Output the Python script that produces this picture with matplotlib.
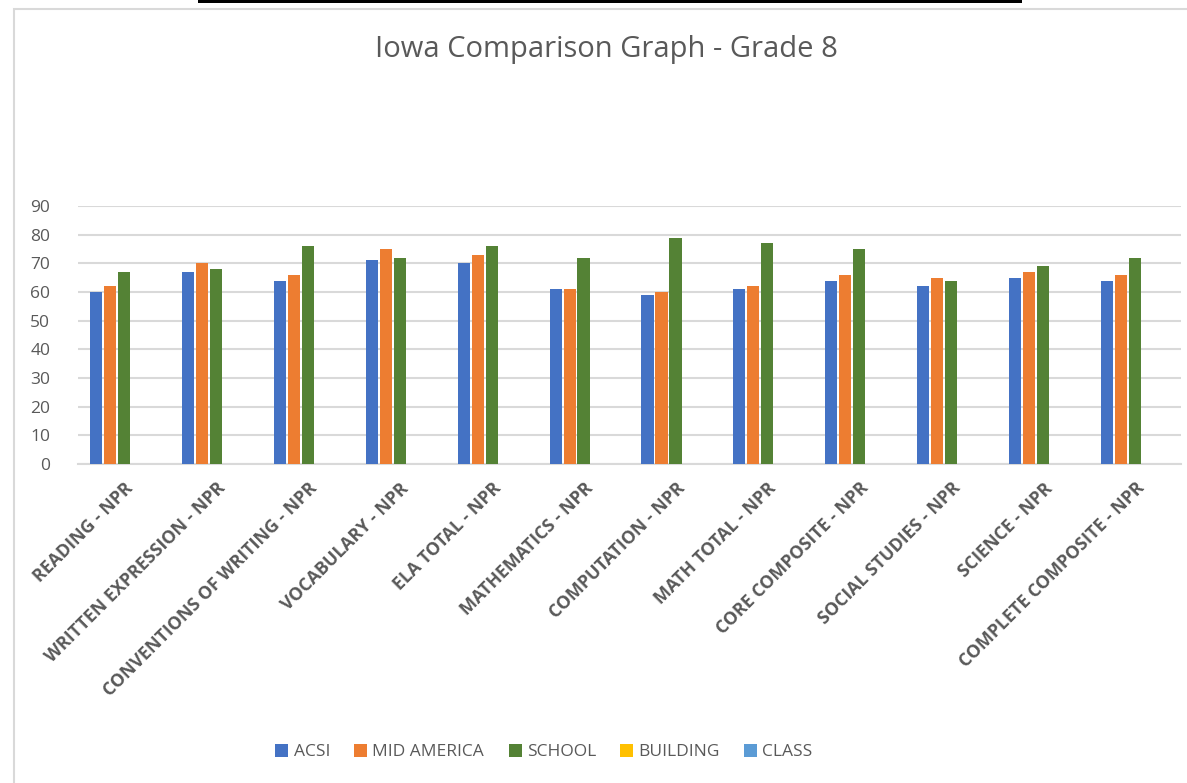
import numpy as np
from matplotlib import pyplot as plt
from matplotlib.patches import Rectangle, Patch

categories = ['READING - NPR', 'WRITTEN EXPRESSION - NPR', 'CONVENTIONS OF WRITING - NPR',
              'VOCABULARY - NPR', 'ELA TOTAL - NPR', 'MATHEMATICS - NPR', 'COMPUTATION - NPR',
              'MATH TOTAL - NPR', 'CORE COMPOSITE - NPR', 'SOCIAL STUDIES - NPR',
              'SCIENCE - NPR', 'COMPLETE COMPOSITE - NPR']
acsi = [60, 67, 64, 71, 70, 61, 59, 61, 64, 62, 65, 64]
mid_america = [62, 70, 66, 75, 73, 61, 60, 62, 66, 65, 67, 66]
school = [67, 68, 76, 72, 76, 72, 79, 77, 75, 64, 69, 72]
building = []
klass = []
series_names = ['ACSI', 'MID AMERICA', 'SCHOOL', 'BUILDING', 'CLASS']
colors = ['#4472C4', '#ED7D31', '#548235', '#FFC000', '#5B9BD5']
yticks = np.arange(0, 91, 10)

plt.rcParams['font.family'] = ['Open Sans', 'DejaVu Sans']
grey = '#595959'

fig = plt.figure(figsize=(11.87, 7.83), dpi=100)
# chart border and the black strip from the scanned page
fig.patches.append(Rectangle((14/1187, -0.05), 1.1, 1 - 9/783 + 0.05, transform=fig.transFigure,
                             fill=False, edgecolor='#d9d9d9', linewidth=1.5))
fig.patches.append(Rectangle((198/1187, 1 - 3/783), (1022 - 198)/1187, 3/783,
                             transform=fig.transFigure, facecolor='black', edgecolor='none'))

ax = fig.add_axes([78/1187, 1 - 464/783, (1181 - 78)/1187, (464 - 206)/783])

x = np.arange(len(categories))
step = 0.152
width = 0.132
all_series = [acsi, mid_america, school, building, klass]
for i, (vals, name, c) in enumerate(zip(all_series, series_names, colors)):
    offs = (i - 2) * step
    if len(vals):
        ax.bar(x + offs, vals, width, color=c, zorder=3)

ax.set_xlim(-0.5, len(categories) - 0.5)
ax.set_ylim(0, 90)
ax.set_yticks(yticks)
ax.yaxis.grid(True, color='#d9d9d9', linewidth=1.5, zorder=0)
for s in ['top', 'right', 'left']:
    ax.spines[s].set_visible(False)
ax.spines['bottom'].set_color('#d9d9d9')
ax.spines['bottom'].set_linewidth(1.5)
ax.tick_params(axis='both', length=0, colors=grey)
ax.tick_params(axis='y', labelsize=12.5, pad=20)
ax.set_xticks(x)
ax.set_xticklabels(categories, rotation=45, ha='right', va='top', rotation_mode='anchor',
                   fontsize=12.8, fontweight='bold', color=grey)
ax.tick_params(axis='x', pad=11)

fig.text(0.511, 1 - 50/783, 'Iowa Comparison Graph - Grade 8', ha='center', va='center',
         fontsize=21, color=grey)

handles = [Patch(facecolor=c, label=n) for n, c in zip(series_names, colors)]
fig.legend(handles=handles, loc='center', bbox_to_anchor=(544/1187, 1 - 752/783), ncol=5,
           frameon=False, fontsize=12.5, labelcolor=grey, handlelength=0.75, handleheight=0.75,
           handletextpad=0.3, columnspacing=1.4)

fig.savefig('out.png', dpi=100)
